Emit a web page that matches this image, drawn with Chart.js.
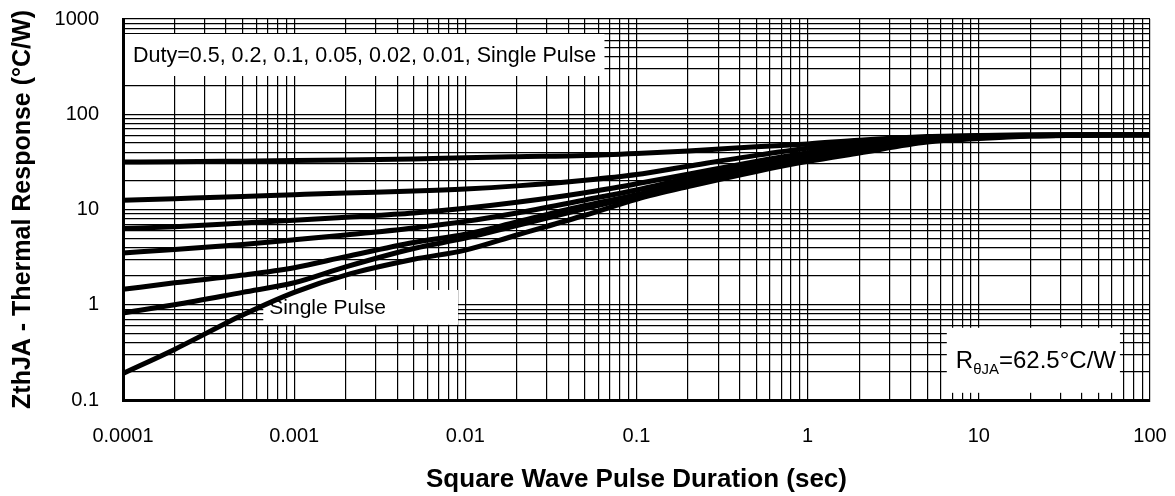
<!DOCTYPE html>
<html><head><meta charset="utf-8">
<script src="https://cdn.jsdelivr.net/npm/chart.js@4.4.1/dist/chart.umd.min.js"></script>
<style>html,body{margin:0;padding:0;background:#fff;}#wrap{width:1175px;height:496px;position:relative;}</style>
</head><body><div id="wrap"><canvas id="c" width="1175" height="496"></canvas></div>
<script>
// ---- data ----
const pulseDuration = [0.0001,0.0002,0.0005,0.001,0.002,0.005,0.01,0.02,0.05,0.1,0.2,0.5,1,2,5,10,20,50,100];
const duty05  = [31.5,31.7,32.2,32.6,33.1,33.9,35.0,35.9,37.0,38.8,41.2,45.5,48.8,53.5,58.3,60.0,60.7,61,61];
const duty02  = [12.5,13.0,13.7,14.3,14.9,15.6,16.4,17.7,20.3,23.3,28.5,37.0,44.0,50.0,57.0,59.5,60.5,61,61];
const duty01  = [6.3,6.6,7.2,7.7,8.3,9.2,10.3,11.9,15.0,18.6,23.5,32.0,39.5,46.5,55.0,58.5,60.0,61,61];
const duty005 = [3.5,3.8,4.3,4.8,5.4,6.4,7.5,9.2,12.6,16.0,21.3,29.5,37.0,44.5,53.5,58.0,60.0,61,61];
const duty002 = [1.45,1.7,2.05,2.45,3.2,4.5,5.5,7.4,11.0,14.3,19.5,27.5,35.0,42.5,52.5,57.0,59.5,60.5,61];
const duty001 = [0.82,1.0,1.35,1.7,2.5,3.9,5.0,6.8,10.2,13.7,18.7,26.5,34.0,41.5,52.0,56.5,59.5,60.5,61];
const singlePulse = [0.19,0.34,0.78,1.35,2.05,3.0,3.75,5.4,8.7,12.8,17.4,25.1,32.0,39.2,51.0,55.5,59.0,60.5,61];
const seriesNames = ['D=0.5','D=0.2','D=0.1','D=0.05','D=0.02','D=0.01','Single Pulse'];
const xTickLabels = ['0.0001','0.001','0.01','0.1','1','10','100'];
const yTickLabels = ['0.1','1','10','100','1000'];
const xTitle = 'Square Wave Pulse Duration (sec)';
const yTitle = 'ZthJA - Thermal Response (°C/W)';
const dutyNote = 'Duty=0.5, 0.2, 0.1, 0.05, 0.02, 0.01, Single Pulse';
const singleNote = 'Single Pulse';
const rNote = ['R', 'θJA', '=62.5°C/W'];

// ---- helpers ----
function decadeTicks(labels){
  const out=[];
  const e0=Math.round(Math.log10(parseFloat(labels[0])));
  const e1=Math.round(Math.log10(parseFloat(labels[labels.length-1])));
  for(let e=e0;e<e1;e++){for(let m=1;m<=9;m++){out.push({value:Number((m*Math.pow(10,e)).toPrecision(12))});}}
  out.push({value:Math.pow(10,e1)});
  return out;
}
function labelFor(labels){
  return function(v){
    const l=Math.log10(v); const r=Math.round(l);
    if(Math.abs(l-r)>1e-9) return '';
    const i=labels.findIndex(s=>Math.abs(Math.log10(parseFloat(s))-r)<1e-9);
    return i>=0?labels[i]:'';
  };
}
function noPad(s){s.paddingTop=0;s.paddingBottom=0;s.paddingLeft=0;s.paddingRight=0;}
const FONT='"Liberation Sans", Arial, Helvetica, sans-serif';
const allSeries=[duty05,duty02,duty01,duty005,duty002,duty001,singlePulse];
const datasets=allSeries.map((s,i)=>({
  label:seriesNames[i],
  data:pulseDuration.map((x,j)=>({x:x,y:s[j]})),
  borderColor:'#000',borderWidth:5,pointRadius:0,fill:false,
  tension:0.4,cubicInterpolationMode:'monotone'
}));

const annoPlugin={
  id:'anno',
  beforeDatasetsDraw(chart){
    const {ctx,scales:{x,y}}=chart;
    const X=v=>x.getPixelForValue(v), Y=v=>y.getPixelForValue(v);
    ctx.save();
    ctx.fillStyle='#fff';
    // Duty box
    let l=X(0.0001)+2, r=X(0.065), t=Y(696), b=Y(252);
    ctx.fillRect(l,t,r-l,b-t);
    ctx.fillStyle='#000'; ctx.textBaseline='alphabetic'; ctx.textAlign='left';
    ctx.font='21.5px '+FONT;
    ctx.fillText(dutyNote,l+8,(t+b)/2+7);
    // Single pulse box
    ctx.fillStyle='#fff';
    l=X(0.00066); r=X(0.00906); t=Y(1.43); b=Y(0.615);
    ctx.fillRect(l,t,r-l,b-t);
    ctx.fillStyle='#000'; ctx.font='21px '+FONT;
    ctx.fillText(singleNote,l+6,(t+b)/2+7);
    // R box
    ctx.fillStyle='#fff';
    l=X(6.5); r=X(66.7); t=Y(0.573); b=Y(0.119);
    ctx.fillRect(l,t,r-l,b-t);
    ctx.fillStyle='#000';
    let tx=l+9, base=(t+b)/2+8;
    ctx.font='24px '+FONT; ctx.fillText(rNote[0],tx,base); tx+=ctx.measureText(rNote[0]).width;
    ctx.font='15px '+FONT; ctx.fillText(rNote[1],tx,base+6); tx+=ctx.measureText(rNote[1]).width;
    ctx.font='24px '+FONT; ctx.fillText(rNote[2],tx,base);
    ctx.restore();
  }
};

new Chart(document.getElementById('c'),{
  type:'line',
  data:{datasets:datasets},
  options:{
    responsive:false,animation:false,
    layout:{padding:{top:19,right:25,left:0,bottom:0}},
    plugins:{legend:{display:false},tooltip:{enabled:false}},
    scales:{
      x:{type:'logarithmic',min:0.0001,max:100,
        afterBuildTicks:s=>{s.ticks=decadeTicks(xTickLabels);},
        afterFit:s=>{s.height=96;noPad(s);},
        grid:{color:'#000',lineWidth:1.2,drawTicks:false},
        border:{display:true,color:'#000',width:3},
        ticks:{autoSkip:false,maxRotation:0,padding:24,color:'#000',font:{family:FONT,size:20},callback:labelFor(xTickLabels)},
        title:{display:true,text:xTitle,color:'#000',font:{family:FONT,size:26,weight:'bold'},padding:{top:0,bottom:1}}
      },
      y:{type:'logarithmic',min:0.1,max:1000,
        afterBuildTicks:s=>{s.ticks=decadeTicks(yTickLabels);},
        afterFit:s=>{s.width=123;noPad(s);},
        grid:{color:'#000',lineWidth:1.2,drawTicks:false},
        border:{display:true,color:'#000',width:3},
        ticks:{autoSkip:false,padding:24,color:'#000',font:{family:FONT,size:20},callback:labelFor(yTickLabels)},
        title:{display:true,text:yTitle,color:'#000',font:{family:FONT,size:25,weight:'bold'},padding:{top:8,bottom:0}}
      }
    }
  },
  plugins:[annoPlugin]
});
</script></body></html>
